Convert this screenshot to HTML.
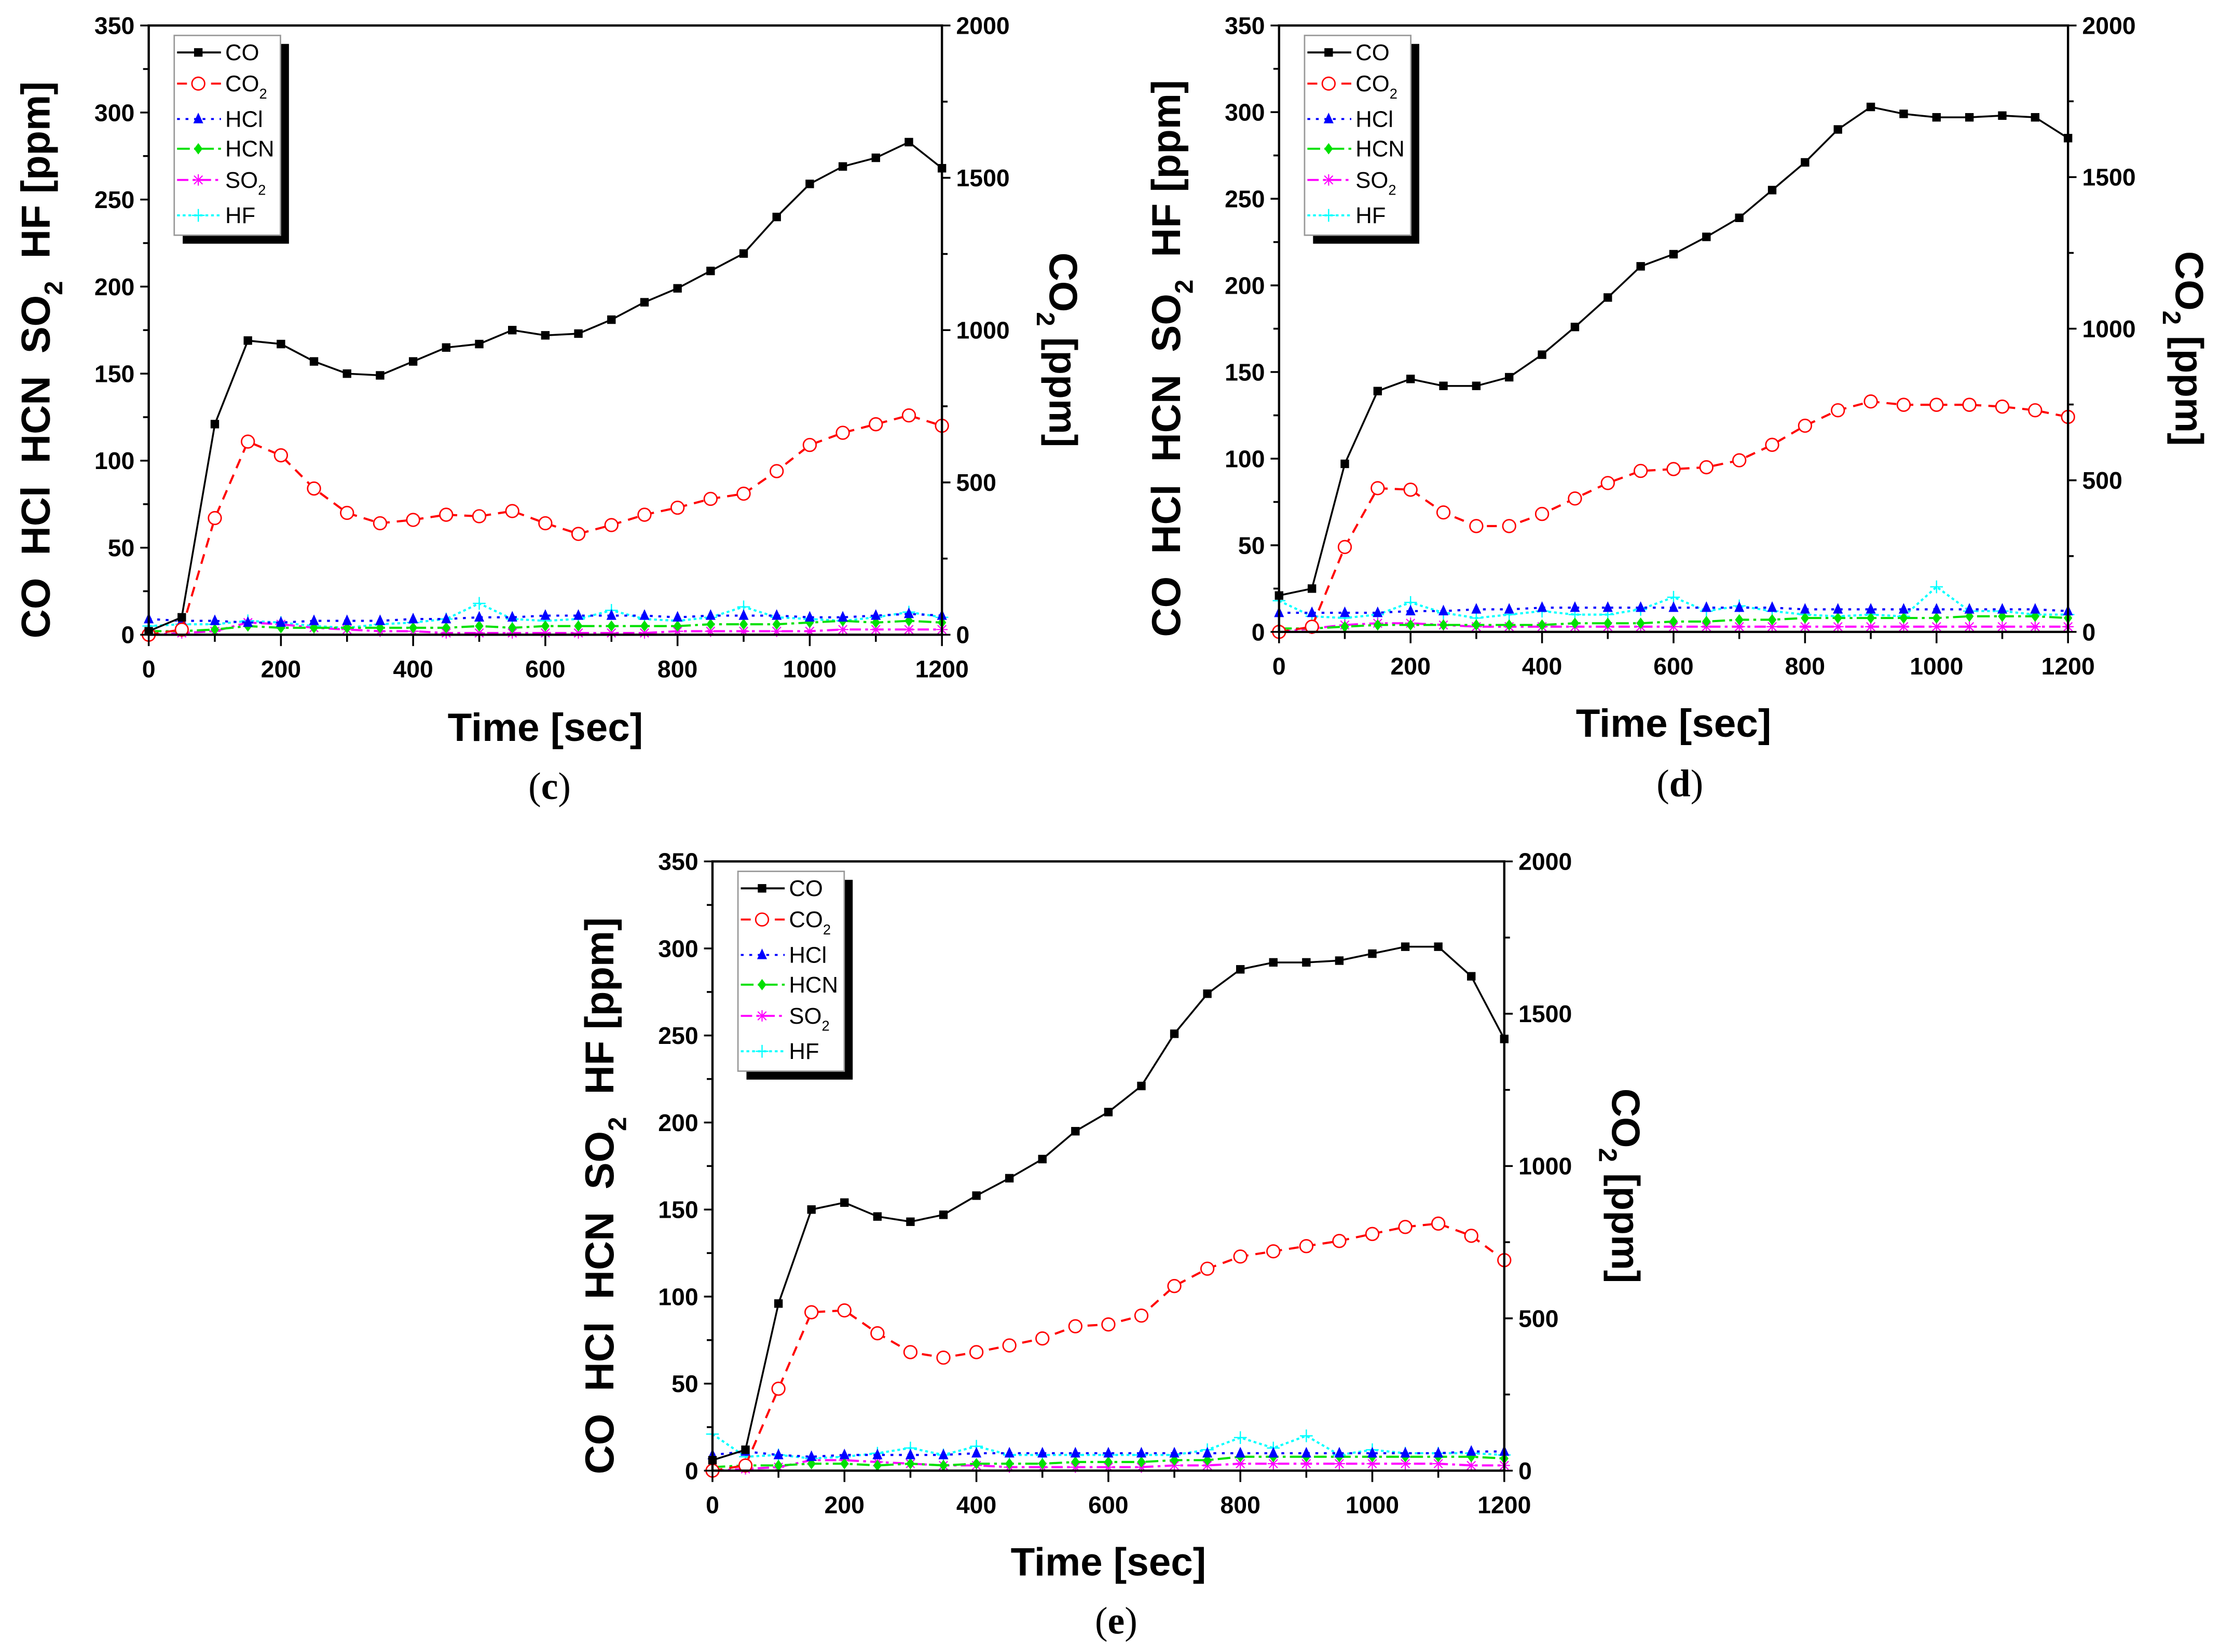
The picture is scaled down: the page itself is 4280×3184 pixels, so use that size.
<!DOCTYPE html>
<html><head><meta charset="utf-8">
<style>
html,body{margin:0;padding:0;background:#fff;}
svg{display:block;}
text{font-family:"Liberation Sans",Arial,sans-serif;}
</style></head>
<body>
<svg id="fig" xmlns="http://www.w3.org/2000/svg" width="4280" height="3184" viewBox="0 0 1568 1166" preserveAspectRatio="none"></svg>
<script>
// ---- data (x every 50 s, 0..1200) ----
const times = [0,50,100,150,200,250,300,350,400,450,500,550,600,650,700,750,800,850,900,950,1000,1050,1100,1150,1200];
const xTicks = [0,200,400,600,800,1000,1200];
const yTicks = [0,50,100,150,200,250,300,350];
const y2Ticks = [0,500,1000,1500,2000];

// chart c
const cCO  = [2,10,121,169,167,157,150,149,157,165,167,175,172,173,181,191,199,209,219,240,259,269,274,283,268];
const cCO2 = [0,17,383,634,589,480,400,366,377,394,389,406,366,331,360,394,417,446,463,537,623,663,691,720,686];
const cHCl = [9,8,8,7,7,8,8,8,9,9,10,10,11,11,11,11,10,11,11,11,10,10,11,12,11];
const cHCN = [2,2,3,5,4,4,4,4,4,4,5,4,5,5,5,5,5,6,6,6,7,8,7,8,7];
const cSO2 = [0,1,2,7,6,4,3,2,2,1,1,1,1,1,1,1,2,2,2,2,2,3,3,3,3];
const cHF  = [5,6,6,8,7,5,4,6,7,9,18,9,8,9,14,9,8,10,16,10,9,8,10,13,10];
// chart d
const dCO  = [21,25,97,139,146,142,142,147,160,176,193,211,218,228,239,255,271,290,303,299,297,297,298,297,285];
const dCO2 = [0,17,280,474,469,394,349,349,389,440,491,531,537,543,566,617,680,731,760,749,749,749,743,731,709];
const dHCl = [11,11,11,11,12,12,13,13,14,14,14,14,14,14,14,14,13,13,13,13,13,13,13,13,12];
const dHCN = [2,2,3,4,4,4,4,4,4,5,5,5,6,6,7,7,8,8,8,8,8,9,9,9,8];
const dSO2 = [0,2,4,5,5,4,3,3,3,3,3,3,3,3,3,3,3,3,3,3,3,3,3,3,3];
const dHF  = [18,9,8,10,17,11,8,10,12,10,10,13,20,12,15,12,10,9,10,9,26,12,12,10,10];
// chart e
const eCO  = [6,12,96,150,154,146,143,147,158,168,179,195,206,221,251,274,288,292,292,293,297,301,301,284,248];
const eCO2 = [0,17,269,520,526,451,389,371,389,411,434,474,480,509,606,663,703,720,737,754,777,800,811,771,691];
const eHCl = [9,11,9,8,9,9,9,9,10,10,10,10,10,10,10,10,10,10,10,10,10,10,10,11,11];
const eHCN = [2,3,3,4,4,3,4,3,4,4,4,5,5,5,6,6,8,8,8,8,8,8,8,8,7];
const eSO2 = [0,1,2,6,6,5,4,3,3,2,2,2,2,2,3,3,4,4,4,4,4,4,4,3,3];
const eHF  = [21,8,9,7,8,10,13,9,14,9,9,9,9,9,9,12,19,13,20,9,12,10,10,10,9];

const NS="http://www.w3.org/2000/svg";
const svg=document.getElementById('fig');
function mk(tag,attrs,parent){const e=document.createElementNS(NS,tag);for(const k in attrs)e.setAttribute(k,attrs[k]);(parent||svg).appendChild(e);return e;}

const STY={
 CO:{c:'#000',dash:'',m:'sq'},
 CO2:{c:'#ff0000',dash:'7,5',m:'circ'},
 HCl:{c:'#0000ff',dash:'2,4',m:'tri'},
 HCN:{c:'#00e000',dash:'9,3,2,3',m:'dia'},
 SO2:{c:'#ff00ff',dash:'8,3,2,3',m:'ast'},
 HF:{c:'#00ffff',dash:'2,2',m:'plus'}
};
function marker(g,type,x,y,c){
 let e;
 if(type==='sq'){e=mk('rect',{x:x-3,y:y-3,width:6,height:6,fill:c},g);}
 else if(type==='circ'){e=mk('circle',{cx:x,cy:y,r:4.5,fill:'#fff',stroke:c,'stroke-width':1},g);}
 else if(type==='tri'){e=mk('polygon',{points:`${x},${y-4.5} ${x-3.5},${y+3} ${x+3.5},${y+3}`,fill:c},g);}
 else if(type==='dia'){e=mk('polygon',{points:`${x},${y-4} ${x-3},${y} ${x},${y+4} ${x+3},${y}`,fill:c},g);}
 else if(type==='ast'){e=mk('path',{d:`M${x-3},${y-3}L${x+3},${y+3}M${x+3},${y-3}L${x-3},${y+3}M${x},${y-4}L${x},${y+4}M${x-4},${y}L${x+4},${y}`,stroke:c,'stroke-width':0.8,fill:'none'},g);}
 else {e=mk('path',{d:`M${x-4.5},${y}L${x+4.5},${y}M${x},${y-4.5}L${x},${y+4.5}`,stroke:c,'stroke-width':0.9,fill:'none'},g);}
 
 
}

function chart(id,x0,y0,x1,y1,series,label,labX,labY,timeY){
 const g=mk('g',{});
 
 
 const sx=v=>x0+(x1-x0)*v/1200;
 const sy=v=>y1-(y1-y0)*v/350;
 const sy2=v=>y1-(y1-y0)*v/2000;
 series.forEach(s=>{
  const st=STY[s.name]; const f=s.right?sy2:sy;
  const pts=s.vals.map((v,i)=>sx(times[i]).toFixed(1)+','+f(v).toFixed(1)).join(' ');
  const pl=mk('polyline',{points:pts,fill:'none',stroke:st.c,'stroke-width':s.name==='CO'?1.3:1.5,'stroke-dasharray':st.dash},g);
  
  
  s.vals.forEach((v,i)=>marker(g,st.m,sx(times[i]),f(v),st.c));
 });
 const fr=mk('rect',{x:x0,y:y0,width:x1-x0,height:y1-y0,fill:'none',stroke:'#000','stroke-width':1.6},g);
 
 
 for(let v=0;v<=1200;v+=100){const X=sx(v);const major=v%200===0;mk('line',{x1:X,y1:y1,x2:X,y2:y1+(major?8:5),stroke:'#000','stroke-width':1.3},g);}
 xTicks.forEach(v=>{const t=mk('text',{x:sx(v),y:y1+30,'text-anchor':'middle','font-size':17,'font-weight':'bold'},g);t.textContent=v;
  });
 for(let v=0;v<=350;v+=25){const Y=sy(v);const major=v%50===0;mk('line',{x1:x0,y1:Y,x2:x0-(major?6:4),y2:Y,stroke:'#000','stroke-width':1.3},g);}
 yTicks.forEach(v=>{const t=mk('text',{x:x0-10,y:sy(v)+6,'text-anchor':'end','font-size':17,'font-weight':'bold'},g);t.textContent=v;
  });
 for(let v=0;v<=2000;v+=250){const Y=sy2(v);const major=v%500===0;mk('line',{x1:x1,y1:Y,x2:x1+(major?6:4),y2:Y,stroke:'#000','stroke-width':1.3},g);}
 y2Ticks.forEach(v=>{const t=mk('text',{x:x1+10,y:sy2(v)+6,'text-anchor':'start','font-size':17,'font-weight':'bold'},g);t.textContent=v;
  });
 const xt=mk('text',{x:(x0+x1)/2,y:timeY,'text-anchor':'middle','font-size':28,'font-weight':'bold'},g);
 xt.textContent='Time [sec]';
 const cy=(y0+y1)/2+6;
 const yt=mk('text',{x:0,y:0,'text-anchor':'middle','font-size':28.5,'font-weight':'bold',transform:`translate(${x0-70},${cy+15}) rotate(-90)`},g);
 yt.innerHTML='CO&#160;&#160;HCl&#160;&#160;HCN&#160;&#160;SO<tspan font-size="18" dy="9">2</tspan><tspan dy="-9">&#160;&#160;HF [ppm]</tspan>';
 
 const y2t=mk('text',{x:0,y:0,'text-anchor':'middle','font-size':28,'font-weight':'bold',transform:`translate(${x1+76},${cy+8}) rotate(90)`},g);
 y2t.innerHTML='CO<tspan font-size="18" dy="9">2</tspan><tspan dy="-9"> [ppm]</tspan>';
 
 const pl=mk('text',{x:labX,y:labY,'text-anchor':'middle','font-size':27},g);
 pl.style.fontFamily='"Liberation Serif",serif';
 pl.innerHTML='(<tspan font-weight="bold">'+label+'</tspan>)';
 
 const lx=x0+18, ly=y0+7;
 const lg=mk('g',{},g);
 
 mk('rect',{x:lx+6,y:ly+6,width:75,height:141,fill:'#000'},lg);
 mk('rect',{x:lx,y:ly,width:75,height:141,fill:'#fff',stroke:'#999','stroke-width':1},lg);
 const names=['CO','CO2','HCl','HCN','SO2','HF'];
 const offs=[12,34,59,80,102,127];
 names.forEach((n,i)=>{
  const st=STY[n];const Y=ly+offs[i];
  const e=mk('g',{},lg);
  
  
  mk('line',{x1:lx+2,y1:Y,x2:lx+33,y2:Y,stroke:st.c,'stroke-width':1.4,'stroke-dasharray':st.dash},e);
  marker(e,st.m,lx+17,Y,st.c);
  const t=mk('text',{x:lx+36,y:Y+5.5,'font-size':16},e);
  if(n==='CO2')t.innerHTML='CO<tspan font-size="10" dy="5">2</tspan>';
  else if(n==='SO2')t.innerHTML='SO<tspan font-size="10" dy="5">2</tspan>';
  else t.textContent=n;
 });
}
function S(co,co2,hcl,hcn,so2,hf){return [
 {name:'HF',vals:hf},{name:'SO2',vals:so2},{name:'HCN',vals:hcn},{name:'HCl',vals:hcl},
 {name:'CO2',vals:co2,right:true},{name:'CO',vals:co}];}
chart('c',105,18,665,448,S(cCO,cCO2,cHCl,cHCN,cSO2,cHF),'c',388,564,523);
chart('d',903,18,1460,446,S(dCO,dCO2,dHCl,dHCN,dSO2,dHF),'d',1186,562,520);
chart('e',503,608,1062,1038,S(eCO,eCO2,eHCl,eHCN,eSO2,eHF),'e',788,1153,1112);
</script>
</body></html>
